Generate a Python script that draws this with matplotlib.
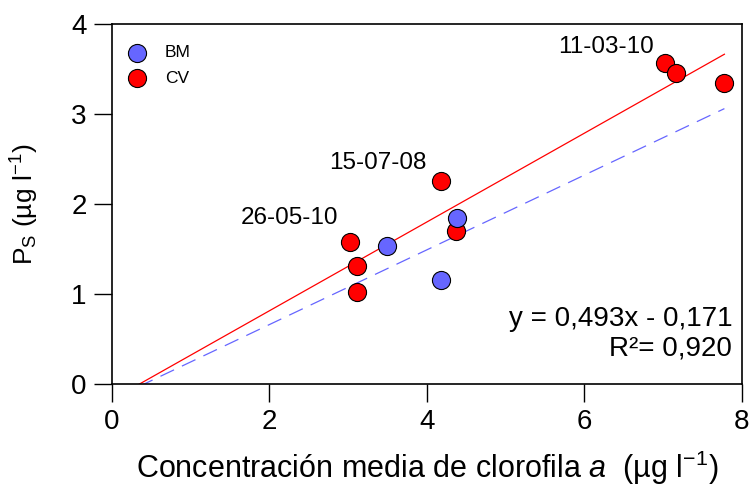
import numpy as np
import matplotlib
matplotlib.use("Agg")
import matplotlib.pyplot as plt

plt.rcParams['font.family'] = ['Liberation Sans', 'DejaVu Sans']
plt.rcParams['mathtext.fontset'] = 'custom'
plt.rcParams['mathtext.rm'] = 'Liberation Sans'
plt.rcParams['mathtext.it'] = 'Liberation Sans:italic'

# data
bm_x = [3.49, 4.18, 4.38]
bm_y = [1.53, 1.16, 1.85]
cv_x = [3.03, 3.11, 3.12, 4.18, 4.37, 7.02, 7.16, 7.78]
cv_y = [1.58, 1.31, 1.02, 2.26, 1.70, 3.57, 3.46, 3.35]

# regression lines
cv_fit = (0.493, -0.171)
bm_fit = (0.415, -0.168)
fit_range = [0.347, 7.78]

labels = ["26-05-10", "15-07-08", "11-03-10"]
label_x = [2.26, 3.375, 6.28]
label_y = [1.85, 2.46, 3.74]

fig = plt.figure(figsize=(7.49, 4.9), dpi=100)
ax = fig.add_axes([0.1491, 0.2157, 0.8412, 0.7353])

xl = np.array(fit_range)
ax.plot(xl, cv_fit[0] * xl + cv_fit[1], color='red', lw=0.9, zorder=2)
ax.plot(xl, bm_fit[0] * xl + bm_fit[1], color='#6666ff', lw=0.9,
        dashes=(12, 7), zorder=2)

ax.scatter(cv_x, cv_y, s=170, color='red', edgecolor='black', lw=0.8,
           zorder=3, label='CV')
ax.scatter(bm_x, bm_y, s=170, color='#6666ff', edgecolor='black', lw=0.8,
           zorder=4, label='BM')

for t, x, y in zip(labels, label_x, label_y):
    ax.text(x, y, t, fontsize=17.5, ha='center', va='center')

ax.text(0.985, 0.18, "y = 0,493x - 0,171", transform=ax.transAxes,
        fontsize=20, ha='right', va='center')
ax.text(0.985, 0.1, "R\u00b2= 0,920", transform=ax.transAxes,
        fontsize=20, ha='right', va='center')

h, l = ax.get_legend_handles_labels()
ax.legend([h[1], h[0]], [l[1], l[0]], loc='upper left', frameon=False,
          fontsize=12.5, bbox_to_anchor=(-0.015, 0.99), handletextpad=0.6,
          labelspacing=0.6, borderaxespad=0.6)

ax.set_xlim(0, 8)
ax.set_ylim(0, 4)
ax.set_xticks([0, 2, 4, 6, 8])
ax.set_yticks([0, 1, 2, 3, 4])
ax.tick_params(direction='out', length=13, width=1, labelsize=20, pad=5)
for s in ax.spines.values():
    s.set_linewidth(1.2)

ax.set_xlabel(r"Concentración media de clorofila $\mathit{a}$  (µg l$^{\mathrm{-1}}$)",
              fontsize=22, labelpad=10)
ax.set_ylabel(r"P$_{\mathrm{S}}$ (µg l$^{\mathrm{-1}}$)", fontsize=19, labelpad=22)

fig.savefig("out.png", dpi=100)
